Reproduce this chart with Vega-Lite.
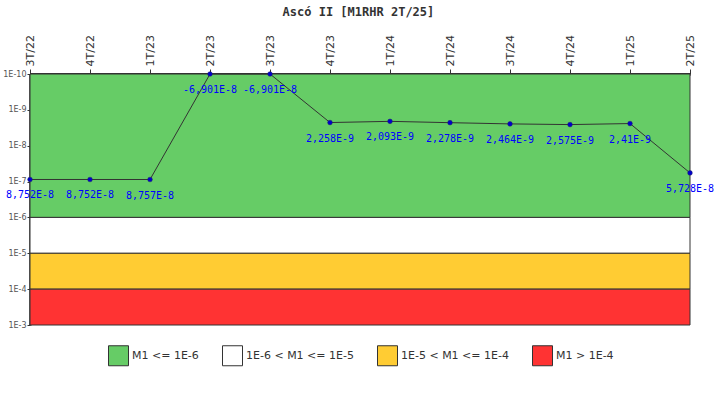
{
  "$schema": "https://vega.github.io/schema/vega-lite/v6.json",
  "width": 660,
  "height": 251,
  "autosize": {"type": "none"},
  "padding": {"left": 30, "top": 74, "right": 30, "bottom": 75},
  "background": "#ffffff",
  "title": {
    "text": "Ascó II [M1RHR 2T/25]",
    "font": "DejaVu Sans Mono",
    "fontSize": 12,
    "fontWeight": "bold",
    "color": "#333333",
    "frame": "bounds",
    "anchor": "middle",
    "offset": 16
  },
  "datasets": {
    "bands": [
      {"band": "M1 <= 1E-6", "lo": 1e-10, "hi": 1e-6},
      {"band": "1E-6 < M1 <= 1E-5", "lo": 1e-6, "hi": 1e-5},
      {"band": "1E-5 < M1 <= 1E-4", "lo": 1e-5, "hi": 1e-4},
      {"band": "M1 > 1E-4", "lo": 1e-4, "hi": 1e-3}
    ],
    "series": [
      {"q": "3T/22", "v": 8.752e-8, "label": "8,752E-8"},
      {"q": "4T/22", "v": 8.752e-8, "label": "8,752E-8"},
      {"q": "1T/23", "v": 8.757e-8, "label": "8,757E-8"},
      {"q": "2T/23", "v": 1e-10, "label": "-6,901E-8"},
      {"q": "3T/23", "v": 1e-10, "label": "-6,901E-8"},
      {"q": "4T/23", "v": 2.258e-9, "label": "2,258E-9"},
      {"q": "1T/24", "v": 2.093e-9, "label": "2,093E-9"},
      {"q": "2T/24", "v": 2.278e-9, "label": "2,278E-9"},
      {"q": "3T/24", "v": 2.464e-9, "label": "2,464E-9"},
      {"q": "4T/24", "v": 2.575e-9, "label": "2,575E-9"},
      {"q": "1T/25", "v": 2.41e-9, "label": "2,41E-9"},
      {"q": "2T/25", "v": 5.728e-8, "label": "5,728E-8"}
    ]
  },
  "layer": [
    {
      "data": {"name": "bands"},
      "mark": {"type": "rect", "stroke": "#333333", "strokeWidth": 1},
      "encoding": {
        "y": {
          "field": "lo",
          "type": "quantitative",
          "scale": {"type": "log", "domain": [1e-10, 1e-3], "reverse": true, "nice": false},
          "axis": {
            "values": [1e-10, 1e-9, 1e-8, 1e-7, 1e-6, 1e-5, 1e-4, 1e-3],
            "labelExpr": "'1E' + round(log(datum.value) / LN10)",
            "title": null,
            "grid": false,
            "domainColor": "#333333",
            "domainWidth": 2.5,
            "tickColor": "#333333",
            "tickSize": 3,
            "labelFont": "DejaVu Sans",
            "labelFontSize": 8,
            "labelColor": "#555555",
            "labelPadding": 1
          }
        },
        "y2": {"field": "hi"},
        "color": {
          "field": "band",
          "type": "nominal",
          "scale": {
            "domain": ["M1 <= 1E-6", "1E-6 < M1 <= 1E-5", "1E-5 < M1 <= 1E-4", "M1 > 1E-4"],
            "range": ["#66cc66", "#ffffff", "#ffcc33", "#ff3333"]
          },
          "legend": {
            "title": null,
            "orient": "none",
            "legendX": 78,
            "legendY": 271,
            "direction": "horizontal",
            "symbolType": "square",
            "symbolSize": 400,
            "symbolStrokeColor": "#333333",
            "symbolStrokeWidth": 1,
            "symbolOpacity": 1,
            "labelFont": "DejaVu Sans",
            "labelFontSize": 11,
            "labelColor": "#333333",
            "labelOffset": 3,
            "columnPadding": 21,
            "padding": 0
          }
        }
      }
    },
    {
      "data": {"name": "series"},
      "mark": {"type": "line", "color": "#333333", "strokeWidth": 1},
      "encoding": {
        "x": {
          "field": "q",
          "type": "ordinal",
          "sort": null,
          "scale": {"type": "point", "padding": 0},
          "axis": {
            "orient": "top",
            "title": null,
            "labelAngle": 270,
            "labelAlign": "left",
            "labelBaseline": "middle",
            "labelFont": "DejaVu Sans",
            "labelFontSize": 11,
            "labelColor": "#333333",
            "labelPadding": 3,
            "tickColor": "#333333",
            "tickSize": 5,
            "domainColor": "#333333",
            "domainWidth": 3,
            "grid": false
          }
        },
        "y": {"field": "v", "type": "quantitative"}
      }
    },
    {
      "data": {"name": "series"},
      "mark": {"type": "point", "filled": true, "size": 22, "color": "#0000cc", "stroke": "#222266", "strokeWidth": 0.5, "opacity": 1},
      "encoding": {
        "x": {"field": "q", "type": "ordinal", "sort": null},
        "y": {"field": "v", "type": "quantitative"}
      }
    },
    {
      "data": {"name": "series"},
      "mark": {"type": "text", "dy": 16, "font": "DejaVu Sans Mono", "fontSize": 10, "color": "#0000ff", "align": "center"},
      "encoding": {
        "x": {"field": "q", "type": "ordinal", "sort": null},
        "y": {"field": "v", "type": "quantitative"},
        "text": {"field": "label"}
      }
    }
  ],
  "config": {
    "view": {"stroke": null}
  }
}
